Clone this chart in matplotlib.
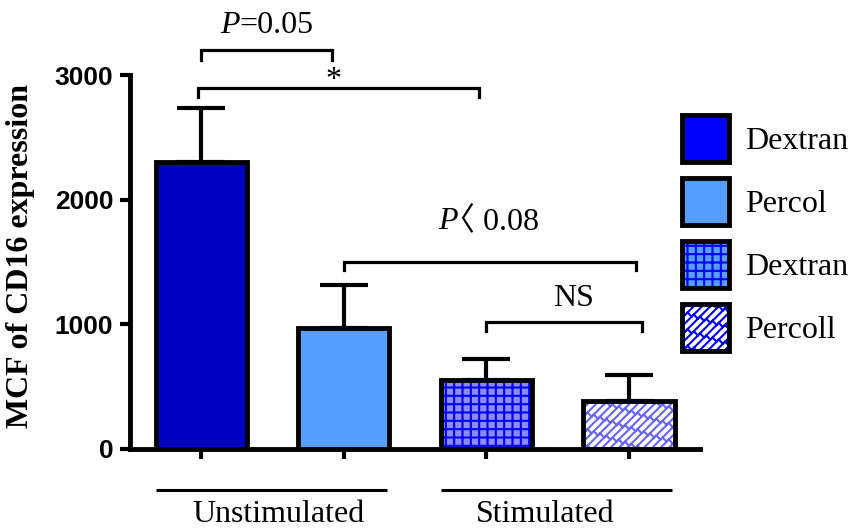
import warnings
import numpy as np
import matplotlib
matplotlib.use("Agg")
import matplotlib.pyplot as plt
import matplotlib.hatch as mhatch
from matplotlib.patches import Patch
from matplotlib.path import Path
from matplotlib.legend_handler import HandlerTuple

warnings.filterwarnings("ignore")

# data
groups = ["Unstimulated", "Stimulated"]
labels = ["Dextran", "Percol", "Dextran", "Percoll"]
means = [2300, 970, 553, 385]
errors = [435, 345, 170, 208]
# comparisons: (left bar, right bar, text)
comparisons = [(0, 1, "=0.05"), (0, 2, "*"), (1, 3, "\u3008 0.08"), (2, 3, "NS")]


class BrickHatch(mhatch.HatchPatternBase):
    """diagonal brick pattern, selected with 'b' in the hatch string"""

    def __init__(self, hatch, density):
        self.segs = []
        if hatch.count("b"):
            n, m = 24, 8
            for k in range(-2 * n, 2 * n + 1):
                c = 2.0 * k / n
                self.segs.append(((-2.0, -2.0 - c), (3.0, 3.0 - c)))
                for j in range(-2 * m, 3 * m):
                    t = (j + 0.5 * (k % 2)) / m
                    self.segs.append(((t, t - c), (t + 1.0 / n, t - c - 1.0 / n)))
        self.num_vertices = 2 * len(self.segs)

    def set_vertices_and_codes(self, vertices, codes):
        for i, (a, b) in enumerate(self.segs):
            vertices[2 * i] = a
            vertices[2 * i + 1] = b
            codes[2 * i] = Path.MOVETO
            codes[2 * i + 1] = Path.LINETO


mhatch._hatch_types.append(BrickHatch)

plt.rcParams["font.family"] = ["Liberation Serif", "Noto Sans CJK SC"]
plt.rcParams["hatch.linewidth"] = 1.5

bar_colors = ["#0000C0", "#55A0FF", "#8C8CFF", "white"]
hatches = [None, None, "++", "b"]
hatch_colors = [None, None, "#0000FF", "#6666FF"]
leg_colors = ["#0000FF", "#55A0FF", "#55A0FF", "white"]
leg_hatch_colors = [None, None, "#0000FF", "#0000FF"]

fig = plt.figure(figsize=(8.55, 5.3), dpi=100)
ax = fig.add_axes([0.152, 0.153, 0.667, 0.705])

x = np.arange(len(means))
width = 0.64
lw = 3.5

ax.errorbar(x, means, yerr=[np.zeros(len(errors)), errors], fmt="none",
            ecolor="black", elinewidth=3, capsize=17, capthick=3, zorder=1)

for i in range(len(means)):
    if hatches[i]:
        ax.bar(x[i], means[i], width=width, color=bar_colors[i], hatch=hatches[i],
               edgecolor=hatch_colors[i], linewidth=0, zorder=2)
        ax.bar(x[i], means[i], width=width, facecolor="none", edgecolor="black",
               linewidth=lw, zorder=3)
    else:
        ax.bar(x[i], means[i], width=width, color=bar_colors[i], edgecolor="black",
               linewidth=lw, zorder=2)

ax.set_xlim(-0.5, 3.5)
ax.set_ylim(0, 3000)
ax.set_yticks([0, 1000, 2000, 3000])
ax.set_xticks(x)
ax.set_xticklabels([])
for s in ["top", "right"]:
    ax.spines[s].set_visible(False)
for s in ["left", "bottom"]:
    ax.spines[s].set_linewidth(3.5)
ax.tick_params(axis="both", width=3, length=7, direction="out")
ax.tick_params(axis="y", pad=5)
for t in ax.get_yticklabels():
    t.set_fontfamily("Liberation Sans")
    t.set_fontweight("bold")
    t.set_fontsize(19)

ax.set_ylabel("MCF of CD16 expression", fontsize=23, fontweight="bold")
ax.yaxis.set_label_coords(-0.167, 0.516)

# group lines and labels below the axis
for g, name in enumerate(groups):
    cx = 2 * g + 0.5
    ax.plot([cx - 0.82, cx + 0.80], [-330, -330], color="black", lw=2.2,
            clip_on=False, solid_capstyle="butt")
ax.text(0.54, -585, groups[0], ha="center", va="baseline", fontsize=23)
ax.text(2.41, -585, groups[1], ha="center", va="baseline", fontsize=23)

# significance brackets
br_heights = [3200, 2895, 1500, 1018]
br_drop = [80, 72, 65, 72]
br_ends = [(0.0, 0.92), (-0.02, 1.95), (1.0, 3.05), (2.0, 3.09)]
for (i, j, txt), h, d, (x0, x1) in zip(comparisons, br_heights, br_drop, br_ends):
    ax.plot([x0, x0, x1, x1], [h - d, h, h, h - d], color="black", lw=2.3,
            clip_on=False, solid_joinstyle="miter")

ax.text(0.27, 3336, "P", ha="right", va="baseline", fontsize=23, style="italic",
        clip_on=False)
ax.text(0.27, 3336, comparisons[0][2], ha="left", va="baseline", fontsize=23,
        clip_on=False)
ax.text(0.93, 2900, comparisons[1][2], ha="center", va="baseline", fontsize=23,
        clip_on=False)
ax.text(1.80, 1764, "P", ha="right", va="baseline", fontsize=23, style="italic")
ax.annotate(comparisons[2][2], (1.80, 1764), xytext=(-11, 0),
            textcoords="offset points", ha="left", va="baseline", fontsize=23)
ax.text(2.61, 1147, comparisons[3][2], ha="center", va="baseline", fontsize=23)

# legend
handles = []
for i in range(len(labels)):
    if hatches[i]:
        handles.append((Patch(facecolor=leg_colors[i], edgecolor=leg_hatch_colors[i],
                              hatch=hatches[i], linewidth=0),
                        Patch(facecolor="none", edgecolor="black", linewidth=lw)))
    else:
        handles.append(Patch(facecolor=leg_colors[i], edgecolor="black", linewidth=lw))
fig.legend(handles, labels, handler_map={tuple: HandlerTuple(ndivide=1)},
           loc="upper left", bbox_to_anchor=(0.798, 0.783), frameon=False,
           fontsize=23, handlelength=1.47, handleheight=1.885, labelspacing=0.5,
           handletextpad=0.5, borderpad=0, borderaxespad=0)

fig.savefig("out.png", dpi=100)
